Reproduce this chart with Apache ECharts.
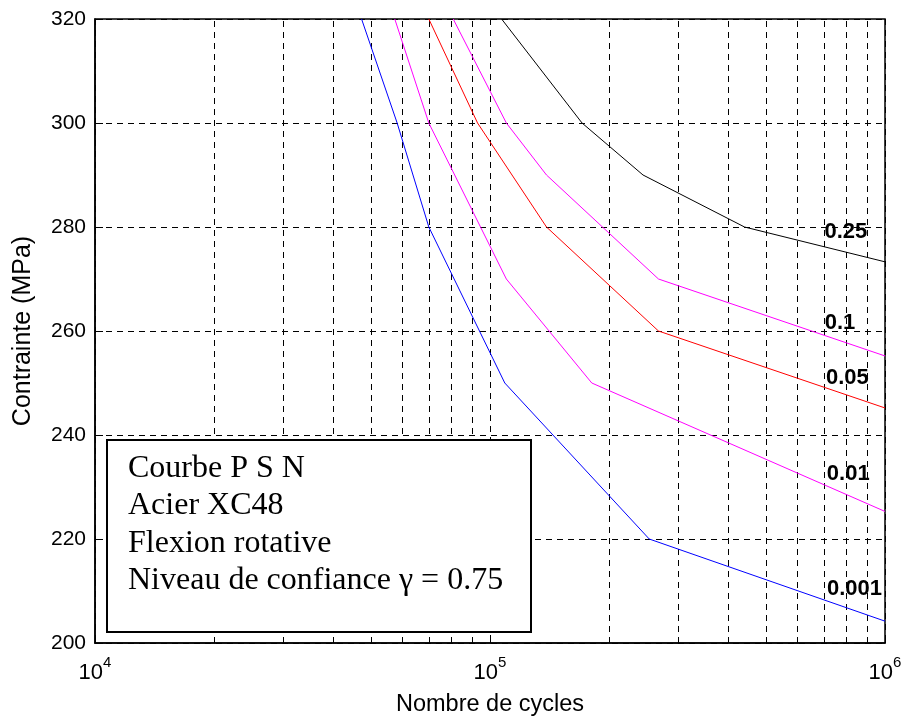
<!DOCTYPE html>
<html>
<head>
<meta charset="utf-8">
<script src="https://cdn.jsdelivr.net/npm/echarts@6/dist/echarts.min.js"></script>
<style>
  html, body { margin: 0; padding: 0; background: #fff; }
  #chart { width: 906px; height: 719px; }
</style>
</head>
<body>
<div id="chart"></div>
<script>
// P-S-N curves, one array pair per probability level
var cycles0001 = [47300, 58200, 70000, 109000, 253000, 1000000];
var stress0001 = [320, 300, 280, 250, 220, 204.2];

var cycles001 = [57400, 70000, 110000, 181000, 1000000];
var stress001 = [320, 300, 270, 250, 225.3];

var cycles005 = [70000, 93000, 139000, 267000, 1000000];
var stress005 = [320, 300, 280, 260, 245.2];

var cycles01 = [80700, 110000, 139000, 267000, 1000000];
var stress01 = [320, 300, 290, 270, 255.2];

var cycles025 = [107000, 171000, 244000, 441000, 1000000];
var stress025 = [320, 300, 290, 280, 273.3];

var curveNames = ['0.001', '0.01', '0.05', '0.1', '0.25'];
var curveColors = ['#0000ff', '#ff00ff', '#ff0000', '#ff00ff', '#000000'];

// where the probability labels sit
var labelX = [837000, 807000, 803000, 769000, 796000];
var labelY = [210.4, 232.6, 251.0, 261.5, 279.1];

// minor grid lines of the log axis
var minorCycles = [20000, 30000, 40000, 50000, 60000, 70000, 80000, 90000,
                   200000, 300000, 400000, 500000, 600000, 700000, 800000, 900000];

var boxLines = ['Courbe P S N', 'Acier XC48', 'Flexion rotative', 'Niveau de confiance \u03b3 = 0.75'];

function pairs(xs, ys) {
  var out = [];
  for (var i = 0; i < xs.length; i++) out.push([xs[i], ys[i]]);
  return out;
}

var allCycles = [cycles0001, cycles001, cycles005, cycles01, cycles025];
var allStress = [stress0001, stress001, stress005, stress01, stress025];

var series = [];
series.push({
  type: 'line',
  data: [],
  silent: true,
  markLine: {
    silent: true,
    symbol: 'none',
    label: { show: false },
    lineStyle: { color: '#000', width: 1, type: [6, 5] },
    data: minorCycles.map(function (c) { return { xAxis: c }; })
  }
});
for (var k = 0; k < curveNames.length; k++) {
  series.push({
    name: curveNames[k],
    type: 'line',
    data: pairs(allCycles[k], allStress[k]),
    symbol: 'none',
    lineStyle: { color: curveColors[k], width: 1 },
    z: 5
  });
}
series.push({
  type: 'scatter',
  symbolSize: 0,
  z: 6,
  itemStyle: { color: '#000', opacity: 1 },
  data: labelX.map(function (x, i) { return [x, labelY[i], curveNames[i]]; }),
  label: {
    show: true,
    position: 'inside',
    formatter: function (p) { return p.value[2]; },
    fontFamily: 'Liberation Sans, Arial',
    fontWeight: 'bold',
    fontSize: 22,
    color: '#000',
    textBorderWidth: 0,
    opacity: 1
  }
});

var tickFont = 'Liberation Sans, Arial';

var chart = echarts.init(document.getElementById('chart'));
chart.setOption({
  animation: false,
  backgroundColor: '#fff',
  grid: {
    left: 95, right: 21, top: 19, bottom: 76,
    outerBoundsMode: 'none',
    containLabel: false,
    show: true, borderColor: '#000', borderWidth: 1.5
  },
  xAxis: [{
    type: 'log',
    logBase: 10,
    min: 10000,
    max: 1000000,
    name: 'Nombre de cycles',
    nameLocation: 'middle',
    nameGap: 50,
    nameTextStyle: { fontFamily: tickFont, fontSize: 23.5, color: '#000' },
    axisLine: { lineStyle: { color: '#000', width: 1.5 } },
    axisTick: { inside: true, length: 8, lineStyle: { color: '#000' } },
    splitLine: { show: true, lineStyle: { color: '#000', width: 1, type: [6, 5] } },
    axisLabel: {
      margin: 12,
      formatter: function (v) {
        return '{b|10}{s|' + Math.round(Math.log10(v)) + '}';
      },
      rich: {
        b: { fontFamily: tickFont, fontSize: 22, color: '#000', verticalAlign: 'bottom' },
        s: { fontFamily: tickFont, fontSize: 15, color: '#000', verticalAlign: 'bottom', padding: [0, 0, 14, 0] }
      }
    }
  }],
  yAxis: [{
    type: 'value',
    min: 200,
    max: 320,
    interval: 20,
    name: 'Contrainte (MPa)',
    nameLocation: 'middle',
    nameGap: 59,
    nameTextStyle: { fontFamily: tickFont, fontSize: 25, color: '#000' },
    axisLine: { show: true, lineStyle: { color: '#000', width: 1.5 } },
    axisTick: { show: true, inside: true, length: 8, lineStyle: { color: '#000' } },
    splitLine: { show: true, lineStyle: { color: '#000', width: 1, type: [6, 5] } },
    axisLabel: { fontFamily: tickFont, fontSize: 21, color: '#000', margin: 9 }
  }],
  graphic: [{
    type: 'rect',
    z: 100,
    zlevel: 1,
    shape: { x: 107, y: 440, width: 424, height: 192 },
    style: { fill: '#fff', stroke: '#000', lineWidth: 2 }
  }, {
    type: 'text',
    z: 101,
    zlevel: 1,
    x: 128,
    y: 450,
    style: {
      text: boxLines.join('\n'),
      font: '32px "Liberation Serif", "Times New Roman", serif',
      lineHeight: 37.3,
      fill: '#000',
      verticalAlign: 'top'
    }
  }],
  series: series
});
</script>
</body>
</html>
